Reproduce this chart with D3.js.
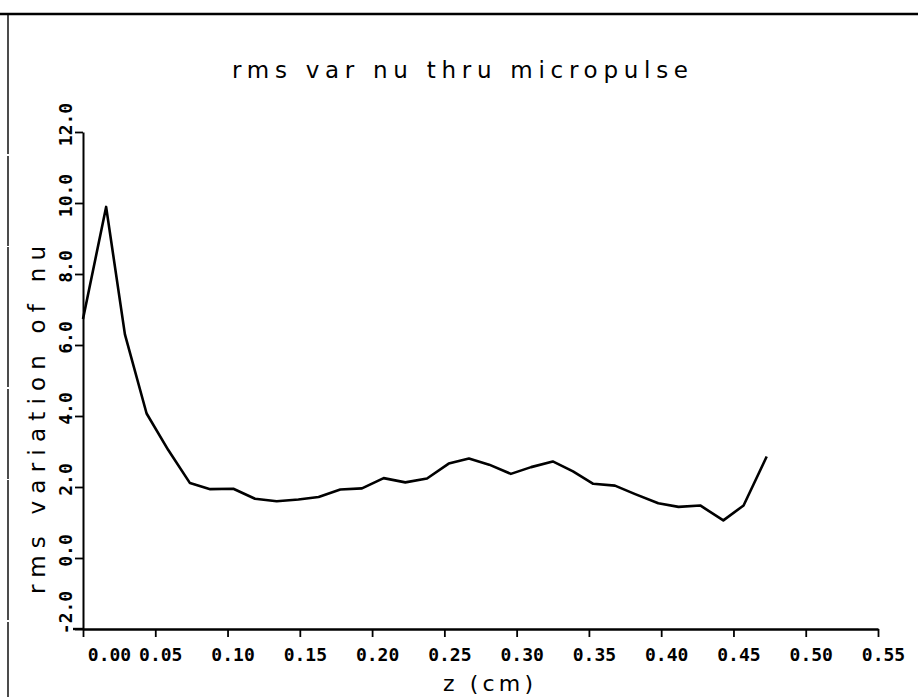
<!DOCTYPE html>
<html>
<head>
<meta charset="utf-8">
<script src="https://cdn.jsdelivr.net/npm/d3@7"></script>
<style>
  body { margin: 0; background: #fff; }
  svg { display: block; }
</style>
</head>
<body>
<script>
'use strict';

// position along the micropulse, cm
const zValues = [0.000, 0.016, 0.029, 0.044, 0.059, 0.074, 0.088, 0.104, 0.119, 0.134, 0.149,
  0.163, 0.178, 0.193, 0.208, 0.223, 0.238, 0.253, 0.267, 0.281, 0.296, 0.310, 0.325,
  0.339, 0.353, 0.368, 0.382, 0.398, 0.412, 0.427, 0.443, 0.457, 0.473];

// rms variation of nu
const rmsValues = [6.73, 9.89, 6.30, 4.07, 3.04, 2.11, 1.94, 1.95, 1.67, 1.60, 1.65,
  1.72, 1.93, 1.96, 2.25, 2.13, 2.24, 2.66, 2.80, 2.63, 2.37, 2.56, 2.72,
  2.44, 2.09, 2.04, 1.80, 1.54, 1.44, 1.48, 1.06, 1.48, 2.86];

const xTicks = [0.00, 0.05, 0.10, 0.15, 0.20, 0.25, 0.30, 0.35, 0.40, 0.45, 0.50, 0.55];
const yTicks = [-2, 0, 2, 4, 6, 8, 10, 12];

const titleText = "rms var nu thru micropulse";
const xLabel = "z (cm)";
const yLabel = "rms variation of nu";

const width = 918, height = 697;
const labelFont = "'DejaVu Sans', sans-serif";
const tickFont = "'DejaVu Sans Mono', monospace";

const svg = d3.select("body").append("svg")
    .attr("width", width)
    .attr("height", height)
    .style("background", "#fff");

const x = d3.scaleLinear().domain([0, 0.55]).range([83, 878]),
      y = d3.scaleLinear().domain([-2, 12]).range([629, 132]);

// scanned page frame (top rule + left edge)
svg.append("line")
    .attr("x1", 0).attr("x2", width)
    .attr("y1", 14).attr("y2", 14)
    .attr("stroke", "#000").attr("stroke-width", 2.5);
svg.append("line")
    .attr("x1", 8).attr("x2", 8)
    .attr("y1", 14).attr("y2", height)
    .attr("stroke", "#000").attr("stroke-width", 1.4)
    .attr("stroke-dasharray", "140,2,90,1");

svg.append("text")
    .attr("x", 460)
    .attr("y", 78)
    .attr("text-anchor", "middle")
    .attr("textLength", 456)
    .attr("lengthAdjust", "spacing")
    .style("font", "23px " + labelFont)
    .attr("fill", "#000")
    .text(titleText);

// x axis
const gx = svg.append("g")
    .attr("class", "axis axis--x")
    .attr("transform", "translate(0," + y(-2) + ")")
    .call(d3.axisBottom(x)
        .tickValues(xTicks)
        .tickFormat(d3.format(".2f"))
        .tickSize(8)
        .tickSizeOuter(0)
        .tickPadding(11));

gx.select(".domain").attr("stroke-width", 2.4);
gx.selectAll(".tick line").attr("stroke-width", 1.8);
gx.selectAll(".tick text")
    .attr("dx", (d, i) => i === 0 ? 26 : 5)
    .style("font", "bold 18px " + tickFont)
    .attr("fill", "#000");

// axis line runs a little past the y axis
gx.append("line")
    .attr("x1", x(0) - 10).attr("x2", x(0))
    .attr("stroke", "#000").attr("stroke-width", 2.4);

// y axis
const gy = svg.append("g")
    .attr("class", "axis axis--y")
    .attr("transform", "translate(" + x(0) + ",0)")
    .call(d3.axisLeft(y)
        .tickValues(yTicks)
        .tickFormat((d) => d3.format(".1f")(d).replace("\u2212", "-"))
        .tickSize(8)
        .tickSizeOuter(0));

gy.select(".domain").attr("stroke-width", 2);
gy.selectAll(".tick line").attr("stroke-width", 1.8);
gy.selectAll(".tick text")
    .attr("transform", "rotate(-90)")
    .attr("text-anchor", "middle")
    .attr("x", (d) => d < 0 ? 17 : 8)
    .attr("y", -11)
    .attr("dy", 0)
    .style("font", "bold 18px " + tickFont)
    .attr("fill", "#000");

// axis titles
svg.append("text")
    .attr("x", 488)
    .attr("y", 691)
    .attr("text-anchor", "middle")
    .attr("textLength", 90)
    .attr("lengthAdjust", "spacing")
    .style("font", "22px " + labelFont)
    .attr("fill", "#000")
    .text(xLabel);

svg.append("text")
    .attr("transform", "translate(45,420) rotate(-90)")
    .attr("text-anchor", "middle")
    .attr("textLength", 348)
    .attr("lengthAdjust", "spacing")
    .style("font", "23px " + labelFont)
    .attr("fill", "#000")
    .text(yLabel);

// the curve
const points = zValues.map((z, i) => ({z: z, v: rmsValues[i]}));

const line = d3.line()
    .x((d) => x(d.z))
    .y((d) => y(d.v));

svg.append("path")
    .datum(points)
    .attr("class", "line")
    .attr("d", line)
    .attr("fill", "none")
    .attr("stroke", "#000")
    .attr("stroke-width", 2.6)
    .attr("stroke-linejoin", "round");
</script>
</body>
</html>
